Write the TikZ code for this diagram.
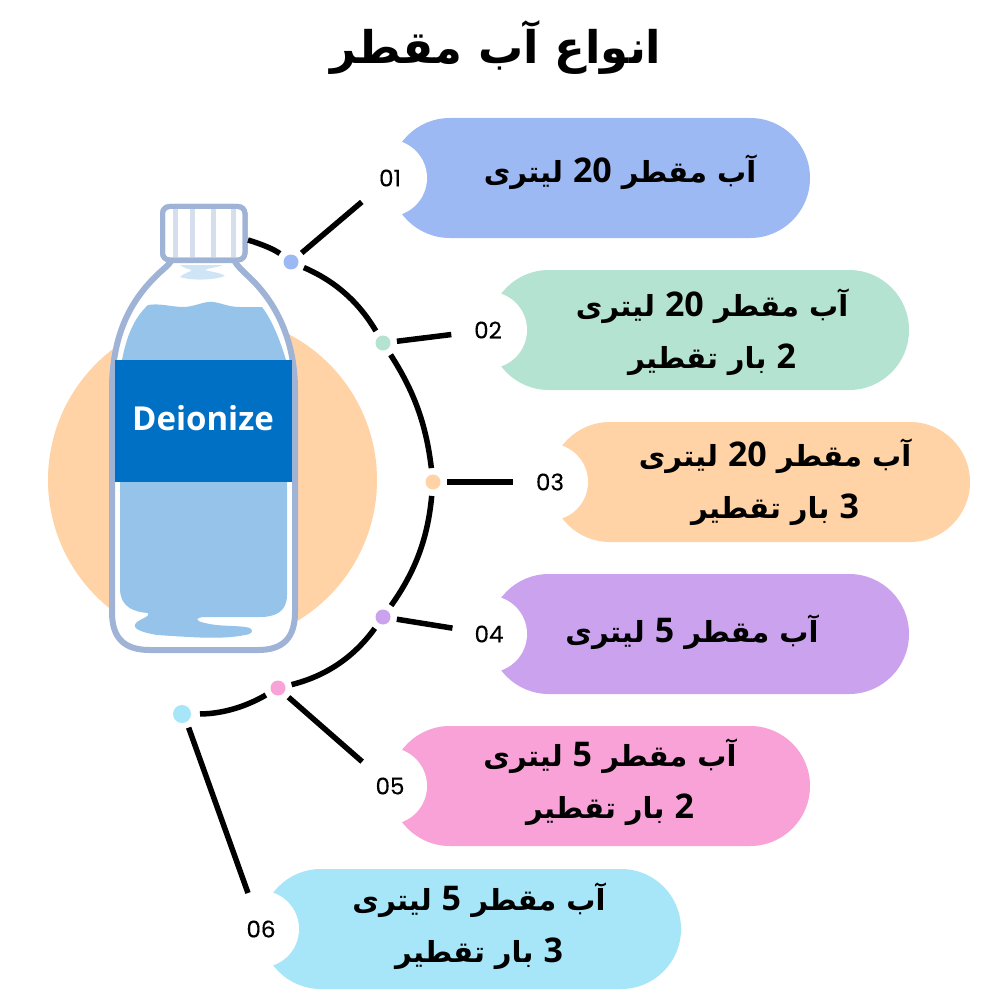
\documentclass[tikz,border=0pt]{standalone}
\usepackage{fontspec}
\TeXXeTstate=1
\newfontfamily\fa[Script=Arabic]{DejaVu Sans}
\newfontfamily\lat{Open Sans}
\newfontfamily\pop[FakeBold=0.3]{Poppins}
\newcommand{\digs}[1]{\beginL{\lat\bfseries\fontsize{34}{52}\selectfont #1}\endL{}}
\definecolor{pa}{HTML}{9DB9F3}
\definecolor{pb}{HTML}{B5E3D1}
\definecolor{pc}{HTML}{FFD3A6}
\definecolor{pd}{HTML}{CBA2EE}
\definecolor{pe}{HTML}{F8A2D8}
\definecolor{pf}{HTML}{A6E6F8}
\definecolor{edgeb}{HTML}{9FB3D6}
\definecolor{water}{HTML}{95C3EA}
\definecolor{lab}{HTML}{0070C4}
\definecolor{stripe}{HTML}{D5DEEC}
\definecolor{hl}{HTML}{CFE5F6}
\tikzset{
  pill/.style={minimum width=420pt,minimum height=120pt,rounded corners=59.9pt,inner sep=0pt,draw=none},
  notch/.style={circle,fill=white,minimum size=76.8pt,inner sep=0pt,draw=none},
  numlab/.style={font=\pop\fontsize{23}{23}\selectfont,inner sep=0pt,text=black},
  pilltext/.style={font=\fa\bfseries\fontsize{29}{52}\selectfont,align=center,inner sep=0pt,text=black},
  dot/.style={circle,minimum size=15pt,inner sep=0pt,draw=none},
  wire/.style={line width=5.5pt,black},
  spoke/.style={wire,shorten <=14pt,shorten >=37pt},
  seg/.style={wire,shorten <=14pt,shorten >=14pt},
}
\begin{document}
\begin{tikzpicture}[x=1pt,y=-1pt]
\useasboundingbox (0,0) rectangle (1000,1000);
\fill[white] (0,0) rectangle (1000,1000);
% title
\node[inner sep=0pt,font=\fa\bfseries\fontsize{45}{50}\selectfont] (title) at (496,48) {\beginR انواع آب مقطر\endR};
% back circle
\fill[pc] (212.5,480) circle[radius=164.5];
% bottle
\filldraw[fill=white,draw=edgeb,line width=6pt,line join=round]
  (172,260) .. controls (168,266) and (162,270) .. (156,276)
  .. controls (134,298) and (112,330) .. (112,390)
  -- (112,612) .. controls (112,638) and (124,650) .. (150,650)
  -- (258,650) .. controls (283,650) and (295,638) .. (295,612)
  -- (295,390) .. controls (295,335) and (272,298) .. (248,276)
  .. controls (242,270) and (237,266) .. (234,260) -- cycle;
\fill[water] (122,360) .. controls (126,340) and (132,320) .. (148,305)
  .. controls (160,303) and (172,307) .. (183,307)
  .. controls (195,307) and (203,301) .. (213,302)
  .. controls (222,303) and (228,307) .. (240,307) -- (262,307)
  .. controls (272,320) and (280,340) .. (286,360) -- cycle;
\fill[water] (120,482) -- (287,482) -- (287,595)
  .. controls (287,612) and (275,617) .. (260,617)
  -- (203,617) .. controls (195,618) and (195,621) .. (205,623)
  .. controls (220,627) and (240,625) .. (250,628)
  .. controls (254,631) and (252,634) .. (245,635)
  .. controls (220,640) and (190,637) .. (157,635)
  .. controls (140,632) and (130,628) .. (137,622)
  .. controls (142,618) and (150,617) .. (148,613)
  .. controls (135,612) and (121,608) .. (120,590) -- cycle;
\fill[hl] (180,265) -- (223,265) .. controls (215,268) and (208,268) .. (205,270)
  .. controls (212,272) and (222,273) .. (225,276)
  .. controls (215,280) and (192,281) .. (180,277)
  .. controls (184,273) and (190,272) .. (192,270) .. controls (188,269) and (184,268) .. (180,265) -- cycle;
\fill[lab] (115,360) rectangle (292,482);
\filldraw[fill=white,draw=edgeb,line width=5pt,rounded corners=7pt] (162.5,206.5) rectangle (245,260);
\foreach \sx in {175,192,213,233}
  \draw[stripe,line width=5pt] (\sx,209) -- (\sx,257.5);
\draw[edgeb,line width=5pt,rounded corners=7pt] (162.5,206.5) rectangle (245,260);
\node[font=\lat\bfseries\fontsize{33}{33}\selectfont,text=white,inner sep=0pt] (deion) at (203,418) {Deionize};
% pills
\node[pill,fill=pa] (p1) at (600,178) {};
\node[pill,fill=pb] (p2) at (699,330) {};
\node[pill,fill=pc] (p3) at (760,482) {};
\node[pill,fill=pd] (p4) at (699,634) {};
\node[pill,fill=pe] (p5) at (600,786) {};
\node[pill,fill=pf] (p6) at (471,929) {};
\node[notch] (h1) at (388.6,178) {};
\node[notch] (h2) at (488.6,330) {};
\node[notch] (h3) at (549.6,482) {};
\node[notch] (h4) at (488.6,634) {};
\node[notch] (h5) at (388.6,786) {};
\node[notch] (h6) at (260.6,929) {};
\node[numlab] (n1) at (390,178) {01};
\node[numlab] (n2) at (488,330) {02};
\node[numlab] (n3) at (550,482) {03};
\node[numlab] (n4) at (489,634) {04};
\node[numlab] (n5) at (390,786) {05};
\node[numlab] (n6) at (261,929) {06};
\node[pilltext] (t1) at (620,172) {\beginR آب مقطر \digs{20} لیتری\endR};
\node[pilltext] (t2) at (712,332) {\beginR آب مقطر \digs{20} لیتری\endR\\\beginR \digs{2} بار تقطیر\endR};
\node[pilltext] (t3) at (775,482) {\beginR آب مقطر \digs{20} لیتری\endR\\\beginR \digs{3} بار تقطیر\endR};
\node[pilltext] (t4) at (692,632) {\beginR آب مقطر \digs{5} لیتری\endR};
\node[pilltext] (t5) at (610,782) {\beginR آب مقطر \digs{5} لیتری\endR\\\beginR \digs{2} بار تقطیر\endR};
\node[pilltext] (t6) at (479,926) {\beginR آب مقطر \digs{5} لیتری\endR\\\beginR \digs{3} بار تقطیر\endR};
% dots
\node[dot,fill=pa] (d1) at (291,262) {};
\node[dot,fill=pb] (d2) at (383,343) {};
\node[dot,fill=pc] (d3) at (433,482) {};
\node[dot,fill=pd] (d4) at (383,617) {};
\node[dot,fill=pe] (d5) at (278,688) {};
\node[dot,fill=pf,minimum size=18pt] (d6) at (182,714) {};
\coordinate (c0) at (248,240);
\coordinate (e6) at (248,893);
% connectors
\draw[wire,shorten >=14pt] (c0) to[bend left=10] (d1.center);
\draw[seg] (d1.center) to[bend left=18] (d2.center);
\draw[seg] (d2.center) to[bend left=13] (d3.center);
\draw[seg] (d3.center) to[bend left=15] (d4.center);
\draw[seg] (d4.center) to[bend left=20] (d5.center);
\draw[seg,shorten >=18pt] (d5.center) to[bend left=15] (d6.center);
\draw[spoke] (d1.center) -- (n1.center);
\draw[spoke] (d2.center) -- (n2.center);
\draw[spoke] (d3.center) -- (n3.center);
\draw[spoke] (d4.center) -- (n4.center);
\draw[spoke] (d5.center) -- (n5.center);
\draw[wire,shorten <=6pt] (d6.-60) -- (e6);
\end{tikzpicture}
\end{document}
